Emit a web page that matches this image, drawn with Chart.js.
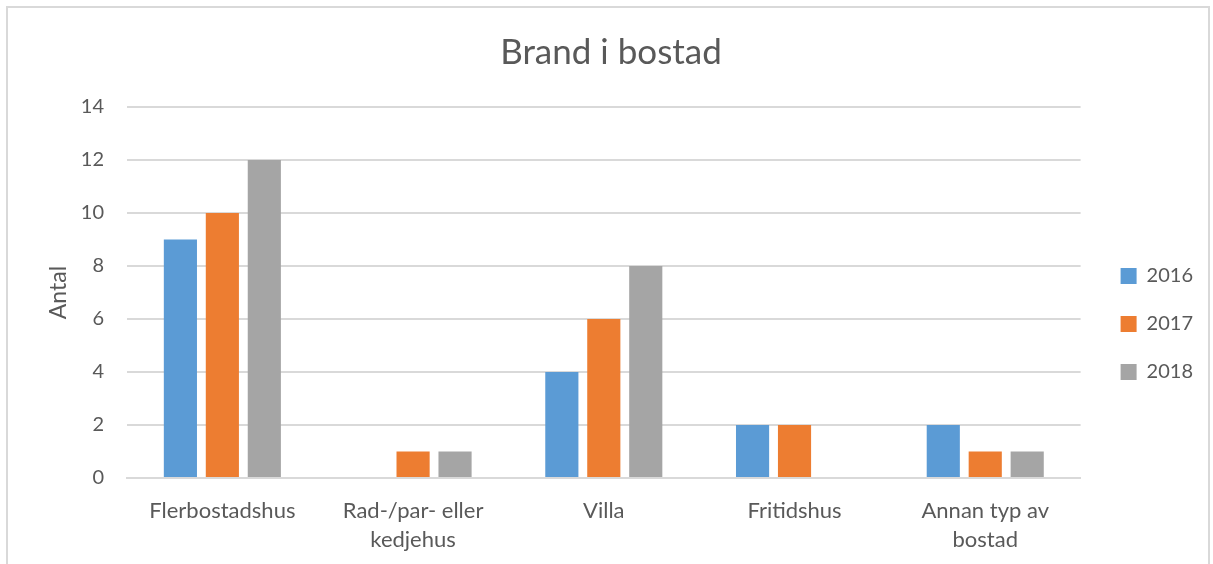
<!DOCTYPE html>
<html>
<head>
<meta charset="utf-8">
<script src="https://cdn.jsdelivr.net/npm/chart.js@4"></script>
<style>
  html, body { margin: 0; padding: 0; background: #fff; overflow: hidden; }
  #box {
    position: absolute; left: 6px; top: 6px;
    width: 1200px; height: 630px;
    border: 2px solid #d9d9d9;
  }
</style>
</head>
<body>
<div id="box"><canvas id="chart" width="1200" height="630"></canvas></div>
<script>
const categories = ["Flerbostadshus", ["Rad-/par- eller", "kedjehus"], "Villa", "Fritidshus", ["Annan typ av", "bostad"]];
const years = ["2016", "2017", "2018"];
const values2016 = [9, 0, 4, 2, 2];
const values2017 = [10, 1, 6, 2, 1];
const values2018 = [12, 1, 8, 0, 1];
const colors = ["#5B9BD5", "#ED7D31", "#A5A5A5"];

const font = "Lato, 'Liberation Sans', sans-serif";
const textColor = "#595959";
const gridColor = "#d9d9d9";

const series = [values2016, values2017, values2018];

// nudge the legend a bit right and down, like the original
const legendShift = {
  id: "legendShift",
  afterLayout(chart) {
    const lg = chart.legend;
    if (!lg) return;
    lg.left += 12; lg.right += 12;
    lg.top += 31; lg.bottom += 31;
  }
};

new Chart(document.getElementById("chart"), {
  type: "bar",
  data: {
    labels: categories,
    datasets: series.map((vals, i) => ({
      label: years[i],
      data: vals,
      backgroundColor: colors[i],
      barPercentage: 0.79,
      categoryPercentage: 0.66
    }))
  },
  options: {
    responsive: false,
    animation: false,
    layout: { padding: { left: 23, right: 17, top: 0, bottom: 60 } },
    plugins: {
      title: {
        display: true,
        text: "Brand i bostad",
        color: textColor,
        font: { family: font, size: 35, weight: "normal" },
        padding: { top: 24, bottom: 33 }
      },
      legend: {
        position: "right",
        labels: {
          color: textColor,
          font: { family: font, size: 20 },
          boxWidth: 16,
          boxHeight: 16,
          padding: 28
        }
      },
      tooltip: { enabled: false }
    },
    scales: {
      x: {
        grid: { display: false },
        border: { color: gridColor, width: 2 },
        ticks: {
          color: textColor,
          font: { family: font, size: 22, lineHeight: 1.33 },
          padding: 10,
          maxRotation: 0
        },
        afterFit: (scale) => { scale.height = 100; }
      },
      y: {
        min: 0,
        max: 14,
        ticks: {
          stepSize: 2,
          color: textColor,
          font: { family: font, size: 20 },
          padding: 23
        },
        grid: { color: gridColor, lineWidth: 2, drawTicks: false },
        border: { display: false },
        title: {
          display: true,
          text: "Antal",
          color: textColor,
          font: { family: font, size: 23 },
          padding: { top: 14, bottom: 0 }
        },
        afterFit: (scale) => { scale.width = 96; }
      }
    }
  },
  plugins: [legendShift]
});
</script>
</body>
</html>
